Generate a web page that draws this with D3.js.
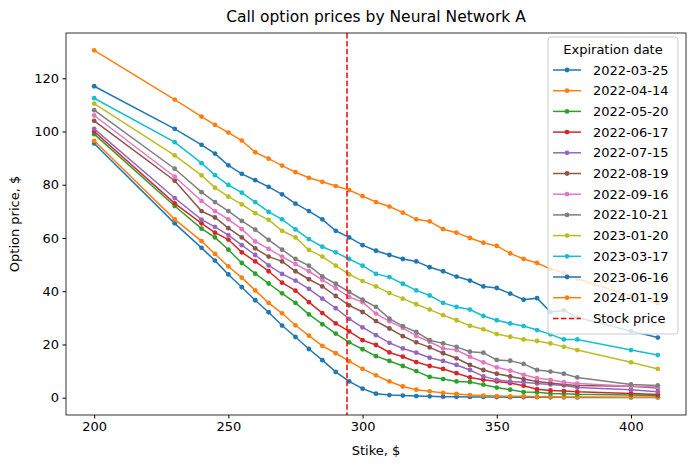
<!DOCTYPE html>
<html>
<head>
<meta charset="utf-8">
<script src="https://cdn.jsdelivr.net/npm/d3@7"></script>
<style>
  body { margin: 0; background: #fff; }
  text { font-family: "DejaVu Sans", sans-serif; }
</style>
</head>
<body>
<div id="chart"></div>
<script>
const strikes = [200, 230, 240, 245, 250, 255, 260, 265, 270, 275, 280, 285, 290, 295, 300, 305, 310,
  315, 320, 325, 330, 335, 340, 345, 350, 355, 360, 365, 370, 375, 380, 400, 410];

const expirations = ['2022-03-25', '2022-04-14', '2022-05-20', '2022-06-17', '2022-07-15', '2022-08-19',
  '2022-09-16', '2022-10-21', '2023-01-20', '2023-03-17', '2023-06-16', '2024-01-19'];

const prices = [
  [95.5, 65.5, 56.3, 51.5, 46.3, 41.5, 36.6, 32.1, 27.1, 22.8, 18.3, 14.1, 9.7, 6.1, 3.4, 1.5, 1.0,
   0.8, 0.6, 0.5, 0.4, 0.35, 0.3, 0.3, 0.25, 0.2, 0.2, 0.2, 0.15, 0.15, 0.1, 0.1, 0.1],
  [96.5, 67, 58.8, 54, 49.3, 45.1, 40.3, 35.6, 31.7, 27.2, 23.3, 19.5, 16.7, 13.7, 10.8, 8.4, 6.1,
   4.2, 3.0, 2.4, 1.8, 1.4, 1.0, 0.8, 0.6, 0.5, 0.5, 0.4, 0.4, 0.3, 0.3, 0.2, 0.2],
  [99, 72, 63.5, 60.2, 55.6, 50.6, 46.6, 42.9, 39.2, 35.6, 31.3, 27.6, 24.1, 20.8, 18.2, 15.6, 13.8,
   11.9, 10.0, 7.8, 7.0, 6.1, 5.9, 4.9, 3.8, 3.0, 2.1, 2.0, 1.6, 1.5, 1.3, 1.0, 0.7],
  [100, 73, 65.5, 62, 59.4, 54.6, 51.2, 47.5, 43.2, 40.2, 35.9, 31.8, 27.9, 24.9, 21.6, 19.8, 17,
   15.4, 13.4, 11.9, 10.8, 9.2, 7.6, 6.7, 6.1, 5.5, 4.5, 3.2, 2.7, 2.5, 2.2, 1.6, 1.2],
  [101, 75, 66.9, 64.2, 61.1, 57.3, 53.6, 49.7, 46.5, 44, 40.9, 37.2, 33.6, 29.6, 26.4, 23.5, 20.6,
   18.5, 16.9, 15.0, 13.8, 12.3, 10.4, 8.0, 6.7, 6.1, 5.8, 5.3, 5.0, 4.6, 3.8, 3.0, 2.2],
  [104, 81.5, 70.1, 67.7, 63.7, 60.2, 56.1, 53, 51.2, 47.5, 44.5, 41.8, 38.2, 34.7, 32.2, 28.8, 26,
   23.1, 20.8, 18.9, 16.7, 14.8, 12.3, 10.4, 9.0, 8.0, 7.0, 6.1, 5.5, 5.0, 4.6, 4.3, 3.6],
  [106, 83, 73.9, 70.1, 67, 63.3, 58.7, 55.9, 53, 50.2, 47.5, 44.3, 41.2, 37.8, 35.9, 31.6, 28.7,
   26.2, 23.2, 21, 18.5, 17.9, 15.4, 13.3, 11.4, 10.2, 8.6, 7.3, 6.7, 5.8, 5.3, 4.3, 4.0],
  [108, 86, 77.2, 73.5, 70.1, 66.4, 63.1, 59.3, 55.6, 52.1, 49.6, 45.6, 42.8, 39.7, 36.8, 34.1, 29.7,
   26.9, 24.7, 21.6, 20.4, 19.1, 17.3, 16.9, 14.2, 13.9, 12.7, 10.4, 9.8, 9.0, 7.6, 5.0, 4.6],
  [110.5, 91, 83.5, 78.9, 75.5, 72.6, 69.3, 66.8, 62.7, 60.2, 55.5, 53, 49.6, 46.3, 43.8, 41.8, 39.3,
   37.2, 35.1, 33.1, 31, 29.1, 27, 25.7, 23.9, 22.9, 21.9, 21.3, 20.4, 19.1, 17.9, 13.3, 10.8],
  [112.5, 96, 88.1, 83.6, 79.9, 77, 73.5, 69.8, 67, 63.2, 59.6, 56.7, 54.6, 52.1, 49.6, 46.5, 45.3,
   42.8, 40.3, 38.4, 35.6, 34.1, 33.1, 30.7, 29.1, 27.9, 26.9, 25.4, 23.8, 21.9, 21.9, 17.9, 16],
  [117, 101, 95, 91.7, 87.3, 84.1, 81.7, 79.2, 76.4, 72.9, 70.1, 67, 62.7, 60.2, 57.3, 55.2, 53.6,
   52.1, 51.2, 49, 47.5, 45.5, 44, 41.8, 41.2, 39.1, 36.8, 37.4, 32.2, 32.8, 30.1, 25, 22.6],
  [130.5, 112, 105.6, 102.5, 99.6, 96.6, 92.2, 89.8, 87.2, 84.7, 82.6, 81.1, 79.5, 78, 75.7, 73.5, 71.8,
   69.5, 67, 66.2, 63.3, 62, 60, 58.2, 57, 54.2, 52.1, 50.6, 48.4, 46.9, 44.7, 38.2, 35.5]
];

const stockPrice = 294.2;
const xTicks = [200, 250, 300, 350, 400];
const yTicks = [0, 20, 40, 60, 80, 100, 120];

const colors = ['#1f77b4', '#ff7f0e', '#2ca02c', '#d62728', '#9467bd', '#8c564b',
  '#e377c2', '#7f7f7f', '#bcbd22', '#17becf', '#1f77b4', '#ff7f0e'];

const width = 695, height = 468;
const margin = { left: 66, right: 9, top: 33, bottom: 53 };

const svg = d3.select('#chart').append('svg')
  .attr('width', width).attr('height', height);

const x = d3.scaleLinear().domain([189.5, 420.5]).range([margin.left, width - margin.right]);
const y = d3.scaleLinear().domain([-6.5, 137]).range([height - margin.bottom, margin.top]);

// axes
const xAxis = svg.append('g')
  .attr('transform', `translate(0,${height - margin.bottom})`)
  .call(d3.axisBottom(x).tickValues(xTicks).tickSize(3.5).tickPadding(3.5));
const yAxis = svg.append('g')
  .attr('transform', `translate(${margin.left},0)`)
  .call(d3.axisLeft(y).tickValues(yTicks).tickSize(3.5).tickPadding(3.5));
[xAxis, yAxis].forEach(a => {
  a.select('.domain').remove();
  a.selectAll('text').attr('font-size', 13).attr('fill', '#000').style('font-family', 'DejaVu Sans');
  a.selectAll('line').attr('stroke', '#000');
});

const line = d3.line().x((d, i) => x(strikes[i])).y(d => y(d));

prices.forEach((series, k) => {
  const g = svg.append('g');
  g.append('path').datum(series)
    .attr('d', line).attr('fill', 'none')
    .attr('stroke', colors[k]).attr('stroke-width', 1.5);
  g.selectAll('circle').data(series).enter().append('circle')
    .attr('cx', (d, i) => x(strikes[i])).attr('cy', d => y(d))
    .attr('r', 2.4).attr('fill', colors[k]);
});

svg.append('line')
  .attr('x1', x(stockPrice)).attr('x2', x(stockPrice))
  .attr('y1', margin.top).attr('y2', height - margin.bottom)
  .attr('stroke', 'red').attr('stroke-width', 1.5).attr('stroke-dasharray', '5.5,2.4');

// frame
svg.append('rect')
  .attr('x', margin.left).attr('y', margin.top)
  .attr('width', width - margin.left - margin.right)
  .attr('height', height - margin.top - margin.bottom)
  .attr('fill', 'none').attr('stroke', '#000').attr('stroke-width', 0.8);

svg.append('text').attr('x', (margin.left + width - margin.right) / 2).attr('y', 22)
  .attr('text-anchor', 'middle').attr('font-size', 15.5).text('Call option prices by Neural Network A');
svg.append('text').attr('x', (margin.left + width - margin.right) / 2).attr('y', 455)
  .attr('text-anchor', 'middle').attr('font-size', 13).text('Stike, $');
svg.append('text').attr('transform', `translate(19,${(margin.top + height - margin.bottom) / 2}) rotate(-90)`)
  .attr('text-anchor', 'middle').attr('font-size', 13).text('Option price, $');

// legend
const lg = svg.append('g').attr('transform', 'translate(548,37)');
lg.append('rect').attr('width', 130).attr('height', 297).attr('rx', 3)
  .attr('fill', 'white').attr('fill-opacity', 0.8).attr('stroke', '#ccc');
lg.append('text').attr('x', 65).attr('y', 17).attr('text-anchor', 'middle')
  .attr('font-size', 13).text('Expiration date');
const items = expirations.map((e, k) => ({ label: e, color: colors[k], dash: false }))
  .concat([{ label: 'Stock price', color: 'red', dash: true }]);
items.forEach((it, k) => {
  const yy = 33 + k * 20.7;
  lg.append('line').attr('x1', 5).attr('x2', 33).attr('y1', yy).attr('y2', yy)
    .attr('stroke', it.color).attr('stroke-width', 1.5)
    .attr('stroke-dasharray', it.dash ? '5.5,2.4' : null);
  if (!it.dash) lg.append('circle').attr('cx', 19).attr('cy', yy).attr('r', 2.4).attr('fill', it.color);
  lg.append('text').attr('x', 45).attr('y', yy + 4.5).attr('font-size', 13).text(it.label);
});
</script>
</body>
</html>
